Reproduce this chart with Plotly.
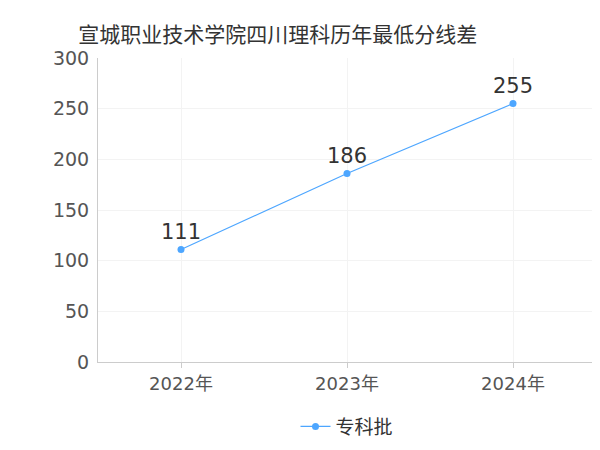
import plotly.graph_objects as go

years = ["2022年", "2023年", "2024年"]
scores = [111, 186, 255]
series_name = "专科批"

fig = go.Figure()
fig.add_trace(go.Scatter(
    x=years, y=scores, name=series_name,
    mode="lines+markers+text",
    text=[str(v) for v in scores], textposition="top center",
    textfont=dict(size=21, color="#333333"),
    line=dict(color="#4da6ff", width=1.2),
    marker=dict(color="#4da6ff", size=7),
))

fig.update_layout(
    width=600, height=450,
    font=dict(family="DejaVu Sans, Noto Sans CJK SC", color="#555555"),
    title=dict(text="宣城职业技术学院四川理科历年最低分线差", x=0.117, y=0.957,
               xanchor="left", font=dict(size=21, color="#333333")),
    plot_bgcolor="white", paper_bgcolor="white",
    margin=dict(l=90, r=12, t=50, b=82),
    showlegend=True,
    legend=dict(orientation="h", x=0.5, xanchor="center", y=-0.15, yanchor="top",
                font=dict(size=19, color="#333333")),
    xaxis=dict(showline=True, linecolor="#cccccc", showgrid=True, gridcolor="#f3f3f3",
               ticks="outside", ticklen=5, tickcolor="#cccccc",
               tickfont=dict(size=18), range=[-0.5, 2.5]),
    yaxis=dict(showline=True, linecolor="#cccccc", showgrid=True, gridcolor="#f3f3f3",
               range=[0, 300], dtick=50, tickfont=dict(size=19), zeroline=False,
               ticks="outside", ticklen=4, tickcolor="white"),
)

fig.write_html("out.html")
